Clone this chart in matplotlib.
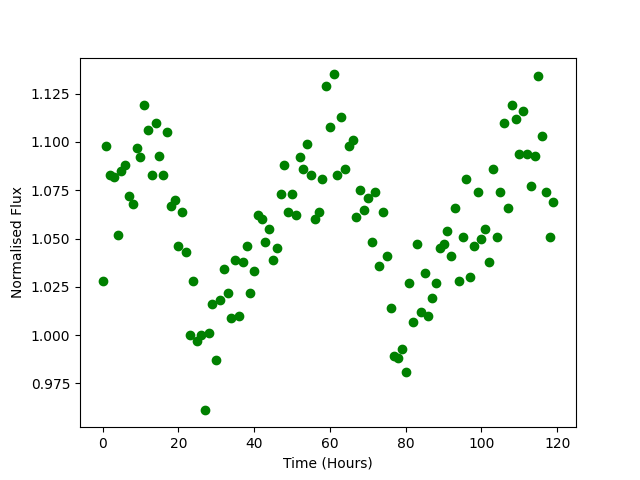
import matplotlib
matplotlib.use("Agg")
import matplotlib.pyplot as plt
import numpy as np

hours = list(range(120))
flux = [
    1.028, 1.098, 1.083, 1.082, 1.052, 1.085, 1.088, 1.072, 1.068, 1.097,
    1.092, 1.119, 1.106, 1.083, 1.110, 1.093, 1.083, 1.105, 1.067, 1.070,
    1.046, 1.064, 1.043, 1.000, 1.028, 0.997, 1.000, 0.961, 1.001, 1.016,
    0.987, 1.018, 1.034, 1.022, 1.009, 1.039, 1.010, 1.038, 1.046, 1.022,
    1.033, 1.062, 1.060, 1.048, 1.055, 1.039, 1.045, 1.073, 1.088, 1.064,
    1.073, 1.062, 1.092, 1.086, 1.099, 1.083, 1.060, 1.064, 1.081, 1.129,
    1.108, 1.135, 1.083, 1.113, 1.086, 1.098, 1.101, 1.061, 1.075, 1.065,
    1.071, 1.048, 1.074, 1.036, 1.064, 1.041, 1.014, 0.989, 0.988, 0.993,
    0.981, 1.027, 1.007, 1.047, 1.012, 1.032, 1.010, 1.019, 1.027, 1.045,
    1.047, 1.054, 1.041, 1.066, 1.028, 1.051, 1.081, 1.030, 1.046, 1.074,
    1.050, 1.055, 1.038, 1.086, 1.051, 1.074, 1.110, 1.066, 1.119, 1.112,
    1.094, 1.116, 1.094, 1.077, 1.093, 1.134, 1.103, 1.074, 1.051, 1.069,
]

fig, ax = plt.subplots(figsize=(6.4, 4.8), dpi=100)
ax.scatter(hours, flux, c="green")
ax.set_xlabel("Time (Hours)")
ax.set_ylabel("Normalised Flux")
fig.savefig("out.png")
